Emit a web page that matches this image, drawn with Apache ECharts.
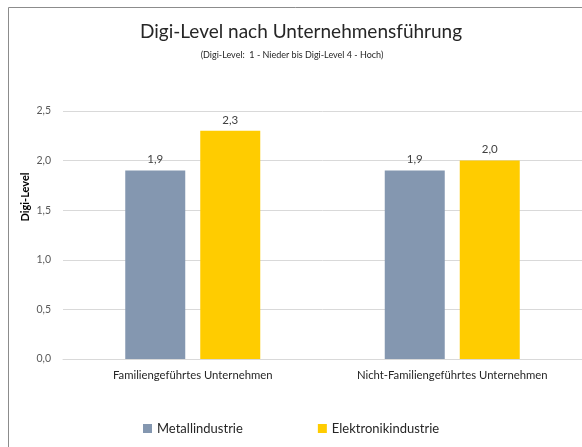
<!DOCTYPE html>
<html>
<head>
<meta charset="utf-8">
<script src="https://cdn.jsdelivr.net/npm/echarts@6/dist/echarts.min.js"></script>
<style>
  html, body { margin: 0; padding: 0; background: #fff; }
  #chart { width: 582px; height: 447px; }
</style>
</head>
<body>
<div id="chart"></div>
<script>
// Daten
var categories = ['Familiengeführtes Unternehmen', 'Nicht-Familiengeführtes Unternehmen'];
var metall = [1.9, 1.9];
var elektronik = [2.3, 2.0];
var seriesNames = ['Metallindustrie', 'Elektronikindustrie'];

var font = 'Lato, "Open Sans", sans-serif';

var fmt = function (v) {
    return v.toFixed(1).replace('.', ',');
};

var chart = echarts.init(document.getElementById('chart'));

var option = {
    backgroundColor: '#fff',
    animation: false,
    title: [
        {
            text: 'Digi-Level nach Unternehmensführung',
            left: 296,
            textAlign: 'center',
            top: 17,
            textStyle: { fontFamily: font, fontSize: 19, fontWeight: 'normal', color: '#262626' }
        },
        {
            text: '(Digi-Level:  1 - Nieder bis Digi-Level 4 - Hoch)',
            left: 287,
            textAlign: 'center',
            top: 46,
            textStyle: { fontFamily: font, fontSize: 9, fontWeight: 'normal', color: '#262626' }
        }
    ],
    legend: {
        data: seriesNames,
        left: 138,
        top: 417,
        icon: 'rect',
        itemWidth: 9,
        itemHeight: 9,
        itemGap: 75,
        textStyle: { fontFamily: font, fontSize: 13, color: '#262626' }
    },
    grid: { left: 63, top: 111, width: 521, height: 248, containLabel: false },
    xAxis: {
        type: 'category',
        data: categories,
        axisLine: { lineStyle: { color: '#d9d9d9' } },
        axisTick: { show: false },
        axisLabel: { fontFamily: font, fontSize: 11.3, color: '#262626', margin: 11 }
    },
    yAxis: {
        type: 'value',
        min: 0,
        max: 2.5,
        interval: 0.5,
        axisLine: { show: false },
        axisTick: { show: false },
        splitLine: { lineStyle: { color: '#d9d9d9' } },
        axisLabel: {
            fontFamily: font, fontSize: 10.5, color: '#595959', margin: 12,
            formatter: fmt
        }
    },
    graphic: [
        {
            type: 'rect',
            shape: { x: 8.5, y: 7.5, width: 600, height: 500 },
            style: { fill: 'none', stroke: '#8c8c8c', lineWidth: 1 },
            silent: true
        },
        {
            type: 'text',
            x: 25,
            y: 197,
            rotation: Math.PI / 2,
            style: {
                text: 'Digi-Level',
                fontFamily: font, fontSize: 11, fontWeight: 'bold', fill: '#000',
                align: 'center', verticalAlign: 'middle'
            }
        }
    ],
    series: [
        {
            name: seriesNames[0],
            type: 'bar',
            data: metall,
            barWidth: 60,
            barGap: '25%',
            itemStyle: { color: '#8497b0' },
            label: {
                show: true, position: 'top', distance: 5,
                fontFamily: font, fontSize: 11.5, color: '#404040',
                formatter: function (p) { return fmt(p.value); }
            }
        },
        {
            name: seriesNames[1],
            type: 'bar',
            data: elektronik,
            barWidth: 60,
            itemStyle: { color: '#ffcc00' },
            label: {
                show: true, position: 'top', distance: 5,
                fontFamily: font, fontSize: 11.5, color: '#404040',
                formatter: function (p) { return fmt(p.value); }
            }
        }
    ]
};

chart.setOption(option);
</script>
</body>
</html>
